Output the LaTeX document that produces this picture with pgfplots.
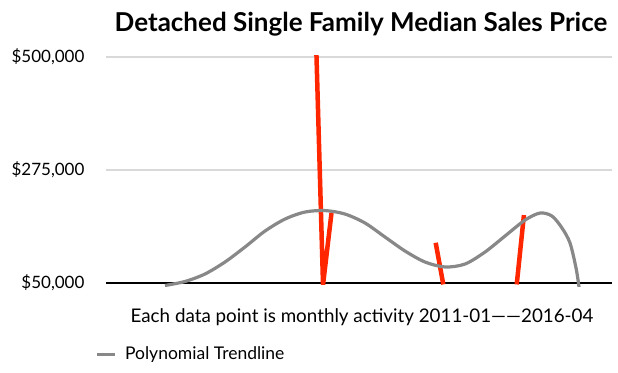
\documentclass[border=0pt]{standalone}
\usepackage{fontspec}
\setmainfont{Lato}
\usepackage{pgfplots}
\pgfplotsset{compat=1.18}
\definecolor{trendgray}{RGB}{136,136,136}
\definecolor{datared}{RGB}{255,38,0}
\definecolor{gridgray}{RGB}{217,217,217}
\begin{document}
\begin{tikzpicture}[x=1pt,y=1pt]
\useasboundingbox (0,0) rectangle (618,372);
\begin{axis}[
  at={(106pt,85.3pt)}, anchor=south west,
  width=506pt, height=232.5pt, scale only axis,
  xmin=0, xmax=64, ymin=42000, ymax=505400,
  axis line style={draw=none},
  xtick=\empty,
  scaled y ticks=false,
  ytick={275000,500000},
  yticklabels={\$275{,}000,\$500{,}000},
  extra y ticks={50000},
  extra y tick labels={\$50{,}000},
  extra y tick style={grid style={black, line width=2pt}},
  ymajorgrids,
  grid style={gridgray, line width=1.5pt},
  major tick length=0pt,
  yticklabel style={font=\fontsize{17}{17}\selectfont, anchor=east, xshift=-18pt},
  legend style={at={(axis description cs:-0.028,-0.29)}, anchor=west, draw=none, fill=none,
    font=\fontsize{17.5}{17.5}\selectfont, legend cell align=left},
  legend image code/.code={\draw[trendgray, line width=3pt] (0pt,0pt) -- (18pt,0pt); \path (25pt,0pt);},
]
\addplot[datared, line width=4.5pt, unbounded coords=jump, forget plot] coordinates {
  (26.62,503500) (27.45,46000) (28.52,188800)
  (35,nan)
  (41.70,129600) (42.66,46500)
  (47,nan)
  (51.95,46500) (52.86,184800)
};
\addplot[trendgray, line width=3.2pt, smooth, tension=0.5] coordinates {
  (7.46,44400) (9.99,52400) (12.52,67300) (15.05,91200) (17.58,121100)
  (20.11,152900) (22.64,176800) (25.17,190800) (27.70,193700) (30.23,186800)
  (32.76,168900) (35.29,141000) (37.82,113100) (40.35,91200) (42.88,81300)
  (45.41,87200) (47.94,111100) (50.47,143000) (53.00,174800) (54.90,188800)
  (56.41,182800) (57.68,158900) (58.69,129000) (59.45,79300) (59.83,41400)
};
\addlegendentry{Polynomial Trendline}
\end{axis}
\node[font=\bfseries\fontsize{26}{26}\selectfont, anchor=base] at (361,340) {Detached Single Family Median Sales Price};
\node[font=\fontsize{18.8}{18.8}\selectfont, anchor=base] at (362,49) {Each data point is monthly activity 2011-01——2016-04};
\end{tikzpicture}
\end{document}
